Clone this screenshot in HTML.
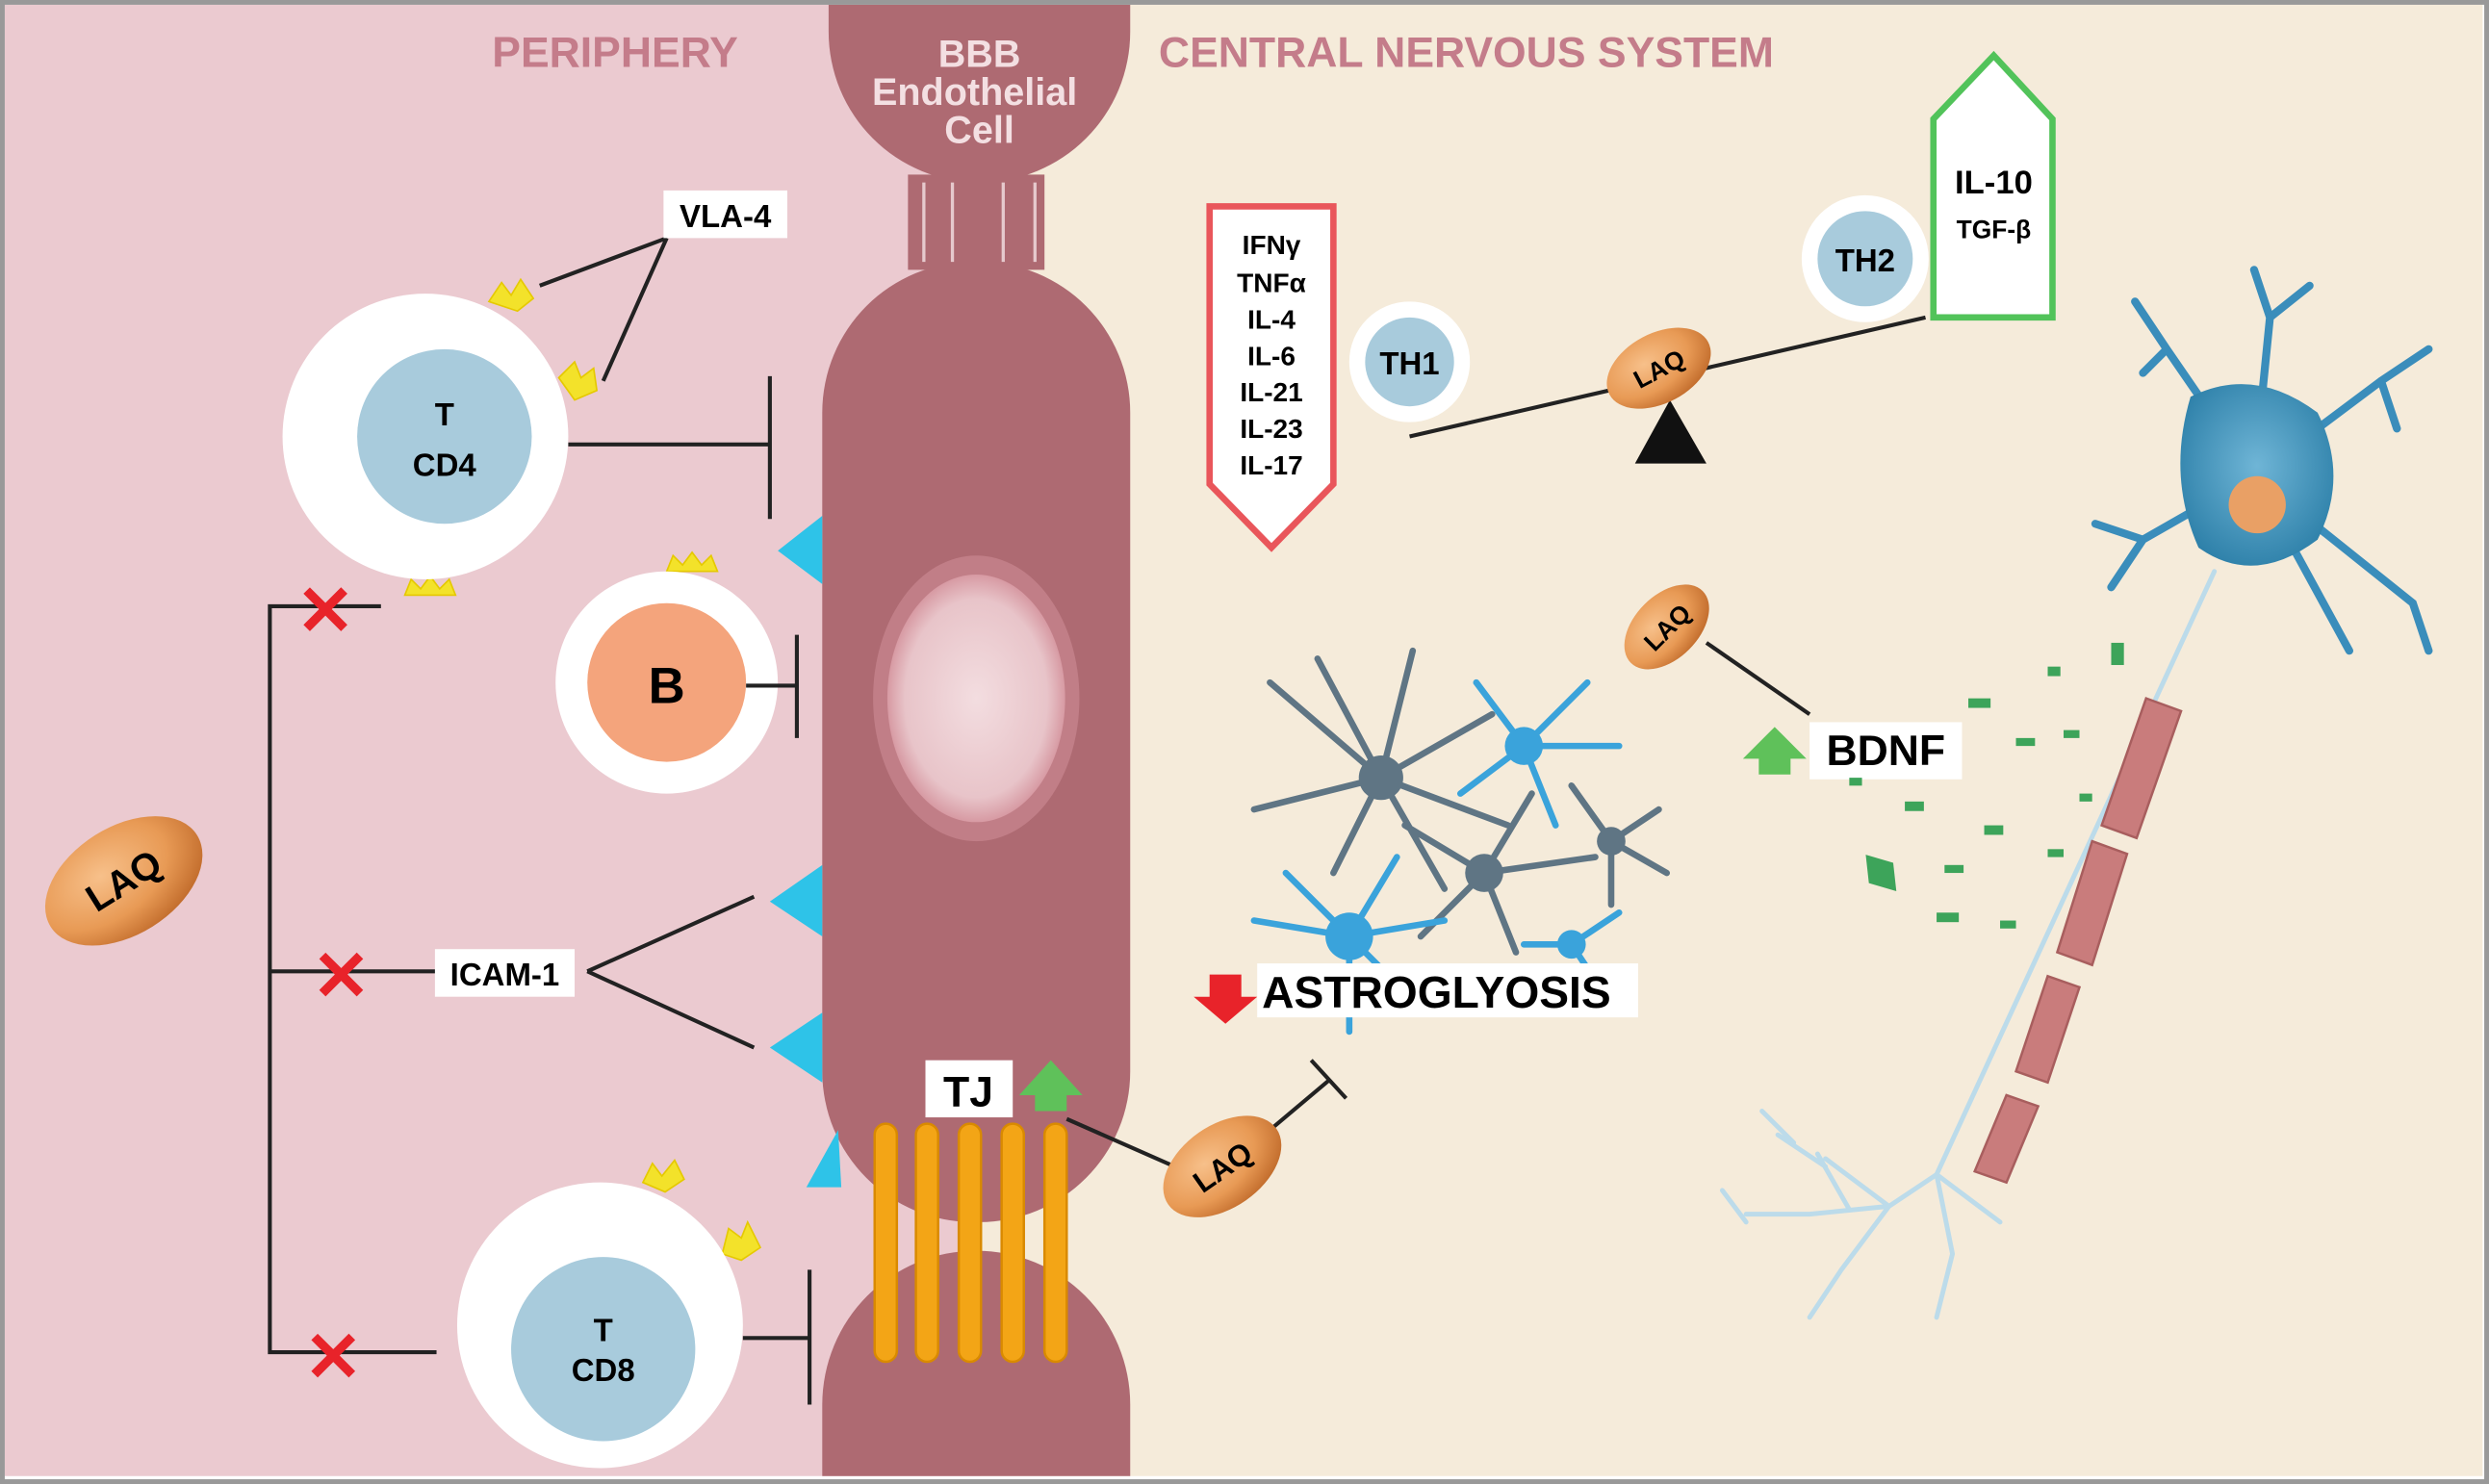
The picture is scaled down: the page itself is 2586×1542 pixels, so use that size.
<!DOCTYPE html>
<html><head><meta charset="utf-8"><style>
html,body{margin:0;padding:0;background:#fff}
svg{display:block}
text{font-family:"Liberation Sans",sans-serif}
</style></head><body>
<svg width="2586" height="1542" viewBox="0 0 1568 935" preserveAspectRatio="none" xmlns="http://www.w3.org/2000/svg">
<defs>
<radialGradient id="laq" cx="40%" cy="35%" r="70%"><stop offset="0" stop-color="#f7c08a"/><stop offset="0.6" stop-color="#e89a55"/><stop offset="1" stop-color="#c06a2a"/></radialGradient>
<radialGradient id="nuc" cx="50%" cy="50%" r="50%"><stop offset="0" stop-color="#f3dde0"/><stop offset="0.8" stop-color="#e8c4c9"/><stop offset="1" stop-color="#d79aa3"/></radialGradient>
<radialGradient id="neu" cx="50%" cy="45%" r="60%"><stop offset="0" stop-color="#6fb5d6"/><stop offset="1" stop-color="#2c7fa8"/></radialGradient>
<g id="laqo"><ellipse rx="32" ry="20" fill="url(#laq)"/></g>
</defs>
<rect width="1568" height="935" fill="#fff"/>
<rect x="3" y="3" width="615" height="927" fill="#ebcad0"/>
<rect x="617" y="3" width="947" height="927" fill="#f5ebda"/>
<!-- endothelial -->
<path d="M522 3 H712 V20 A95 95 0 0 1 522 20 Z" fill="#ae6a72"/>
<rect x="572" y="110" width="86" height="60" fill="#ae6a72"/>
<g stroke="#e6c9cd" stroke-width="2"><line x1="582" y1="115" x2="582" y2="165"/><line x1="600" y1="115" x2="600" y2="165"/><line x1="632" y1="115" x2="632" y2="165"/><line x1="652" y1="115" x2="652" y2="165"/></g>
<rect x="518" y="165" width="194" height="605" rx="95" fill="#ae6a72"/>
<path d="M518 930 V885 A97 97 0 0 1 712 885 V930 Z" fill="#ae6a72"/>
<ellipse cx="615" cy="440" rx="65" ry="90" fill="#c98790" opacity="0.7"/>
<ellipse cx="615" cy="440" rx="56" ry="78" fill="url(#nuc)"/>
<g font-weight="bold" fill="#f3dfe2" font-size="24" text-anchor="middle">
<text x="617" y="42">BBB</text><text x="614" y="66">Endothelial</text><text x="617" y="90">Cell</text></g>
<!-- TJ bars -->
<g fill="#f3a516" stroke="#d98a00" stroke-width="1.5">
<rect x="551" y="708" width="14" height="150" rx="7"/><rect x="577" y="708" width="14" height="150" rx="7"/><rect x="604" y="708" width="14" height="150" rx="7"/><rect x="631" y="708" width="14" height="150" rx="7"/><rect x="658" y="708" width="14" height="150" rx="7"/></g>
<g fill="#2ec3e8"><path d="M518 325 L490 347 L518 368Z"/><path d="M518 545 L485 568 L518 590Z"/><path d="M518 638 L485 660 L518 682Z"/><path d="M528 712 L508 748 L530 748Z"/></g>
<text x="310" y="42" fill="#c47c8a" font-size="27" font-weight="bold">PERIPHERY</text>
<text x="730" y="42" fill="#c47c8a" font-size="27" font-weight="bold">CENTRAL NERVOUS SYSTEM</text>
<g fill="#f3e22a" stroke="#e5c900"><path d="M308 190 l8 -12 l6 8 l6 -10 l8 12 l-10 8z"/><path d="M352 238 l10 -10 l4 10 l8 -6 l2 14 l-14 6z"/><path d="M255 375 l4 -10 l6 6 l6 -8 l6 8 l6 -6 l4 10z"/><path d="M420 360 l4 -10 l6 6 l6 -8 l6 8 l6 -6 l4 10z"/><path d="M405 745 l6 -12 l6 8 l8 -10 l6 12 l-12 8z"/><path d="M455 790 l4 -16 l8 6 l4 -10 l8 16 l-12 8z"/></g>
<circle cx="268" cy="275" r="90" fill="#fff"/>
<circle cx="280" cy="275" r="55" fill="#a8cbdc"/>
<g font-weight="bold">
<text x="280" y="268" font-size="20" text-anchor="middle">T</text>
<text x="280" y="300" font-size="20" text-anchor="middle">CD4</text></g>
<circle cx="420" cy="430" r="70" fill="#fff"/>
<circle cx="420" cy="430" r="50" fill="#f4a47c"/>
<text x="420" y="443" font-size="32" text-anchor="middle" font-weight="bold">B</text>
<circle cx="378" cy="835" r="90" fill="#fff"/>
<circle cx="380" cy="850" r="58" fill="#a8cbdc"/>
<g font-weight="bold">
<text x="380" y="845" font-size="20" text-anchor="middle">T</text>
<text x="380" y="870" font-size="20" text-anchor="middle">CD8</text></g>
<g stroke="#222" stroke-width="2.5" fill="none">
<line x1="358" y1="280" x2="485" y2="280"/><line x1="485" y1="237" x2="485" y2="327"/>
<line x1="470" y1="432" x2="502" y2="432"/><line x1="502" y1="400" x2="502" y2="465"/>
<line x1="468" y1="843" x2="510" y2="843"/><line x1="510" y1="800" x2="510" y2="885"/>
<line x1="340" y1="180" x2="420" y2="150"/><line x1="380" y1="240" x2="420" y2="150"/>
<polyline points="240,382 170,382 170,852 275,852"/><line x1="170" y1="612" x2="275" y2="612"/>
<line x1="370" y1="612" x2="475" y2="565"/><line x1="370" y1="612" x2="475" y2="660"/>
<line x1="888" y1="275" x2="1213" y2="200"/>
<line x1="1075" y1="405" x2="1140" y2="450"/>
<line x1="672" y1="705" x2="740" y2="735"/>
<line x1="800" y1="712" x2="838" y2="680"/><line x1="826" y1="668" x2="848" y2="692"/>
</g>
<rect x="418" y="120" width="78" height="30" fill="#fff"/><text x="457" y="143" font-size="20" text-anchor="middle" font-weight="bold">VLA-4</text>
<rect x="274" y="598" width="88" height="30" fill="#fff"/><text x="318" y="621" font-size="20" text-anchor="middle" font-weight="bold">ICAM-1</text>
<g fill="#e8232a" font-size="44" font-weight="bold" text-anchor="middle"><text x="205" y="400">✕</text><text x="215" y="630">✕</text><text x="210" y="870">✕</text></g>
<use href="#laqo" transform="translate(78,555) rotate(-32) scale(1.7)"/>
<text x="78" y="563" font-size="24" text-anchor="middle" font-weight="bold" transform="rotate(-32 78 555)">LAQ</text>
<path d="M762 130 H840 V305 L801 345 L762 305 Z" fill="#fff" stroke="#e9565b" stroke-width="4"/>
<g font-size="17" font-weight="bold" text-anchor="middle"><text x="801" y="160">IFNγ</text><text x="801" y="184">TNFα</text><text x="801" y="207">IL-4</text><text x="801" y="230">IL-6</text><text x="801" y="253">IL-21</text><text x="801" y="276">IL-23</text><text x="801" y="299">IL-17</text></g>
<path d="M1218 75 L1256 35 L1293 75 V200 H1218 Z" fill="#fff" stroke="#52c35a" stroke-width="4"/>
<text x="1256" y="122" font-size="21" text-anchor="middle" font-weight="bold">IL-10</text>
<text x="1256" y="150" font-size="16" text-anchor="middle" font-weight="bold">TGF-β</text>
<circle cx="888" cy="228" r="38" fill="#fff"/><circle cx="888" cy="228" r="28" fill="#a8cbdc"/><text x="888" y="236" font-size="20" text-anchor="middle" font-weight="bold">TH1</text>
<circle cx="1175" cy="163" r="40" fill="#fff"/><circle cx="1175" cy="163" r="30" fill="#a8cbdc"/><text x="1175" y="171" font-size="20" text-anchor="middle" font-weight="bold">TH2</text>
<path d="M1052 252 L1030 292 L1075 292Z" fill="#111"/>
<use href="#laqo" transform="translate(1045,232) rotate(-28) scale(1.1)"/>
<text x="1045" y="238" font-size="16" text-anchor="middle" font-weight="bold" transform="rotate(-28 1045 232)">LAQ</text>
<use href="#laqo" transform="translate(1050,395) rotate(-45) scale(1)"/>
<text x="1050" y="401" font-size="16" text-anchor="middle" font-weight="bold" transform="rotate(-45 1050 395)">LAQ</text>
<use href="#laqo" transform="translate(770,735) rotate(-35) scale(1.3)"/>
<text x="770" y="742" font-size="19" text-anchor="middle" font-weight="bold" transform="rotate(-35 770 735)">LAQ</text>
<g stroke-linecap="round" fill="none">
<g stroke="#5f7584" stroke-width="4"><path d="M870 490 l-70 -60 M870 490 l-40 -75 M870 490 l20 -80 M870 490 l70 -40 M870 490 l80 30 M870 490 l-80 20 M870 490 l-30 60 M870 490 l40 70 M935 550 l-50 -30 M935 550 l30 -50 M935 550 l70 -10 M935 550 l20 50 M935 550 l-40 40 M1015 530 l-25 -35 M1015 530 l30 -20 M1015 530 l35 20 M1015 530 l0 40"/></g>
<g stroke="#3aa3db" stroke-width="4"><path d="M960 470 l-30 -40 M960 470 l40 -40 M960 470 l60 0 M960 470 l20 50 M960 470 l-40 30 M850 590 l-60 -10 M850 590 l-40 -40 M850 590 l30 -50 M850 590 l60 -10 M850 590 l40 40 M850 590 l0 60 M990 595 l-30 0 M990 595 l30 -20 M990 595 l20 30"/></g>
</g>
<circle cx="870" cy="490" r="14" fill="#5f7584"/><circle cx="935" cy="550" r="12" fill="#5f7584"/><circle cx="1015" cy="530" r="9" fill="#5f7584"/><circle cx="960" cy="470" r="12" fill="#3aa3db"/><circle cx="850" cy="590" r="15" fill="#3aa3db"/><circle cx="990" cy="595" r="9" fill="#3aa3db"/>
<rect x="792" y="607" width="240" height="34" fill="#fff"/><text x="795" y="635" font-size="28" font-weight="bold">ASTROGLYOSIS</text>
<path d="M762 614 H782 V628 H792 L772 645 L752 628 H762Z" fill="#e8232a"/>
<rect x="583" y="668" width="55" height="36" fill="#fff"/><text x="610" y="697" font-size="27" text-anchor="middle" font-weight="bold">TJ</text>
<path d="M652 700 V690 H642 L662 668 L682 690 H672 V700Z" fill="#5fc15a"/>
<rect x="1140" y="455" width="96" height="36" fill="#fff"/><text x="1188" y="482" font-size="27" text-anchor="middle" font-weight="bold">BDNF</text>
<path d="M1108 488 V478 H1098 L1118 458 L1138 478 H1128 V488Z" fill="#5fc15a"/>
<g fill="#3da45a"><path d="M1185 535 l10 15 l-10 15 l-10 -15z" transform="rotate(-40 1185 550)"/><rect x="1240" y="440" width="14" height="6"/><rect x="1270" y="465" width="12" height="5"/><rect x="1250" y="520" width="12" height="6"/><rect x="1200" y="505" width="12" height="6"/><rect x="1225" y="545" width="12" height="5"/><rect x="1290" y="535" width="10" height="5"/><rect x="1300" y="460" width="10" height="5"/><rect x="1330" y="405" width="8" height="14"/><rect x="1290" y="420" width="8" height="6"/><rect x="1165" y="490" width="8" height="5"/><rect x="1220" y="575" width="14" height="6"/><rect x="1260" y="580" width="10" height="5"/><rect x="1310" y="500" width="8" height="5"/></g>
<g stroke="#bcdbea" stroke-width="3" fill="none" stroke-linecap="round"><path d="M1395 360 L1220 740 L1190 760 M1190 760 l-50 5 M1190 760 l-40 -30 M1190 760 l-30 40 M1165 762 l-20 -35 M1150 735 l-30 -20 M1140 765 l-40 0 M1160 800 l-20 30 M1220 740 l10 50 M1230 790 l-10 40 M1220 740 l40 30 M1110 700 l20 20 M1100 770 l-15 -20"/></g>
<g fill="#c97c7c" stroke="#a85e5e" stroke-width="1.5"><path d="M1352 440 l22 8 l-28 80 l-22 -8z"/><path d="M1318 530 l22 8 l-22 70 l-22 -8z"/><path d="M1290 615 l20 7 l-20 60 l-20 -7z"/><path d="M1264 690 l20 7 l-20 48 l-20 -7z"/></g>
<g stroke="#3a8dbb" stroke-width="5" fill="none" stroke-linecap="round"><path d="M1420 300 l-55 -80 l-20 -30 M1365 220 l-15 15 M1420 300 l10 -100 l-10 -30 M1430 200 l25 -20 M1420 300 l80 -60 l30 -20 M1500 240 l10 30 M1420 300 l100 80 l10 30 M1420 300 l-70 40 l-20 30 M1350 340 l-30 -10 M1420 300 l60 110"/></g>
<path d="M1380 250 Q1420 230 1460 260 Q1480 300 1460 340 Q1420 370 1385 345 Q1365 300 1380 250Z" fill="url(#neu)"/>
<circle cx="1422" cy="318" r="18" fill="#e9a065"/>
<rect x="1.5" y="1.5" width="1565" height="932" fill="none" stroke="#999" stroke-width="3"/>
</svg>
</body></html>
